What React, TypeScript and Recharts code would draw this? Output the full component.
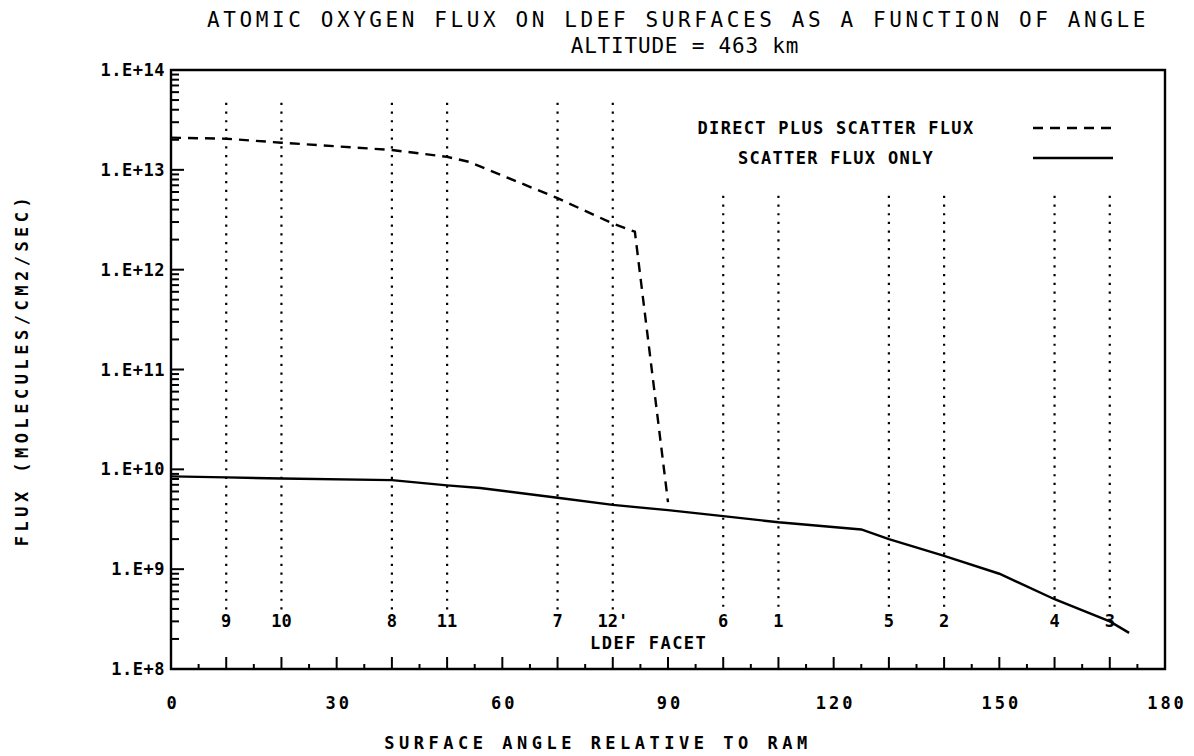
import React from 'react'
import {
  Legend,
  Line,
  LineChart,
  ReferenceArea,
  ReferenceDot,
  ReferenceLine,
  XAxis,
  YAxis,
} from 'recharts'

const FONT = '"DejaVu Sans Mono", monospace'

// direct plus scatter flux (dashed)
const directAngles = [0, 10, 20, 40, 50, 54, 70, 80, 84, 90]
const directFlux = [2.1e13, 2.05e13, 1.87e13, 1.58e13, 1.35e13, 1.2e13, 5.2e12, 2.9e12, 2.4e12, 4.7e9]

// scatter flux only (solid)
const scatterAngles = [0, 10, 20, 40, 50, 56, 70, 80, 90, 100, 110, 125, 130, 140, 150, 160, 170, 173.5]
const scatterFlux = [
  8.5e9, 8.3e9, 8.1e9, 7.8e9, 6.9e9, 6.5e9, 5.2e9, 4.4e9, 3.9e9, 3.4e9, 2.95e9, 2.5e9, 2.0e9,
  1.36e9, 9.0e8, 5.0e8, 3.0e8, 2.3e8,
]

// LDEF facets and the angle each one faces
const facetAngles = [10, 20, 40, 50, 70, 80, 100, 110, 130, 140, 160, 170]
const facetNames = ['9', '10', '8', '11', '7', "12'", '6', '1', '5', '2', '4', '3']

const seriesNames = ['DIRECT PLUS SCATTER FLUX', 'SCATTER FLUX ONLY']

const xTicks = Array.from({ length: 37 }, (_, i) => i * 5)
const yTicks: number[] = []
for (let e = 8; e < 14; e++) for (let k = 1; k < 10; k++) yTicks.push(k * 10 ** e)
yTicks.push(1e14)

const directData = directAngles.map((angle, i) => ({ angle, flux: directFlux[i] }))
const scatterData = scatterAngles.map((angle, i) => ({ angle, flux: scatterFlux[i] }))

const renderXTick = (props: any) => {
  const { x, y, payload } = props
  const v = payload.value
  const len = v % 10 === 0 ? 12 : 5
  return (
    <g>
      {v > 0 && v < 180 && (
        <line x1={x} x2={x} y1={y} y2={y - len} stroke='#000' strokeWidth={2} />
      )}
      {v % 30 === 0 && (
        <text
          x={x + 2}
          y={y + 40}
          textAnchor='middle'
          fontFamily={FONT}
          fontSize={17}
          fontWeight='bold'
          letterSpacing={3}
          fill='#000'
        >
          {v}
        </text>
      )}
    </g>
  )
}

const renderYTick = (props: any) => {
  const { x, y, payload } = props
  const v = payload.value
  const e = Math.floor(Math.log10(v) + 1e-9)
  const major = Math.abs(v / 10 ** e - 1) < 1e-6
  return (
    <g>
      {v > 1e8 && v < 1e14 && (
        <line x1={x} x2={x + (major ? 13 : 8)} y1={y} y2={y} stroke='#000' strokeWidth={2} />
      )}
      {major && (
        <text
          x={x - 6}
          y={y + 6}
          textAnchor='end'
          fontFamily={FONT}
          fontSize={17}
          fontWeight='bold'
          letterSpacing={0.5}
          fill='#000'
        >
          {`1.E+${e}`}
        </text>
      )}
    </g>
  )
}

const LegendBox = () => (
  <div style={{ fontFamily: FONT, fontSize: 17, fontWeight: 'bold', letterSpacing: 1.3, color: '#000' }}>
    {seriesNames.map((name, i) => (
      <div key={name} style={{ display: 'flex', alignItems: 'center', height: 30, whiteSpace: 'nowrap' }}>
        <div style={{ width: 300, textAlign: 'center' }}>{name}</div>
        <svg width={90} height={10} style={{ marginLeft: 47 }}>
          <line
            x1={0}
            x2={80}
            y1={5}
            y2={5}
            stroke='#000'
            strokeWidth={2.4}
            strokeDasharray={i === 0 ? '10 7' : undefined}
          />
        </svg>
      </div>
    ))}
  </div>
)

const labelStyle = { fill: '#000', fontFamily: FONT, fontSize: 17, fontWeight: 'bold' }

export default function App() {
  return (
    <div style={{ position: 'absolute', left: 0, top: 0, width: 1194, height: 756, background: '#fff' }}>
      <div
        style={{
          position: 'absolute',
          left: 178,
          width: 1000,
          top: 7,
          textAlign: 'center',
          fontFamily: FONT,
          fontSize: 21,
          letterSpacing: 3.6,
          lineHeight: '26px',
          color: '#000',
        }}
      >
        <div>ATOMIC OXYGEN FLUX ON LDEF SURFACES AS A FUNCTION OF ANGLE</div>
        <div style={{ letterSpacing: 0.8, paddingLeft: 14 }}>ALTITUDE = 463 km</div>
      </div>
      <LineChart width={1194} height={756} margin={{ top: 70, right: 29, bottom: 0, left: 0 }}>
        <XAxis
          type='number'
          dataKey='angle'
          domain={[0, 180]}
          ticks={xTicks}
          interval={0}
          tick={renderXTick}
          tickSize={0}
          tickMargin={0}
          axisLine={false}
          height={87}
          allowDataOverflow
          label={{
            value: 'SURFACE ANGLE RELATIVE TO RAM',
            position: 'insideBottom',
            offset: 7,
            dx: -70,
            ...labelStyle,
            letterSpacing: 4.5,
          }}
        />
        <YAxis
          type='number'
          scale='log'
          domain={[1e8, 1e14]}
          ticks={yTicks}
          interval={0}
          tick={renderYTick}
          tickSize={0}
          tickMargin={0}
          axisLine={false}
          width={171}
          allowDataOverflow
          label={{
            value: 'FLUX (MOLECULES/CM2/SEC)',
            angle: -90,
            position: 'insideLeft',
            offset: 22,
            ...labelStyle,
            letterSpacing: 4.5,
            style: { textAnchor: 'middle' },
          }}
        />
        <ReferenceArea x1={0} x2={180} y1={1e8} y2={1e14} fill='none' stroke='#000' strokeWidth={2.4} />
        {facetAngles.map((a, i) => (
          <ReferenceLine
            key={a}
            segment={[
              { x: a, y: a < 90 ? 4.7e13 : 5.5e12 },
              { x: a, y: 3.9e8 },
            ]}
            stroke='#000'
            strokeWidth={2.2}
            strokeDasharray='2.2 6.5'
            label={{ value: facetNames[i], position: 'bottom', offset: 5, ...labelStyle }}
          />
        ))}
        <ReferenceDot
          x={86.5}
          y={1e8}
          r={0}
          fill='none'
          stroke='none'
          label={{ value: 'LDEF FACET', position: 'top', offset: 20, ...labelStyle, letterSpacing: 1.5 }}
        />
        <Line
          data={directData}
          dataKey='flux'
          name={seriesNames[0]}
          type='linear'
          stroke='#000'
          strokeWidth={2.4}
          strokeDasharray='10 7'
          dot={false}
          isAnimationActive={false}
        />
        <Line
          data={scatterData}
          dataKey='flux'
          name={seriesNames[1]}
          type='linear'
          stroke='#000'
          strokeWidth={2.4}
          dot={false}
          isAnimationActive={false}
        />
        <Legend
          layout='horizontal'
          verticalAlign='middle'
          align='center'
          content={<LegendBox />}
          wrapperStyle={{ position: 'absolute', left: 686, top: 113, width: 470 }}
        />
      </LineChart>
    </div>
  )
}
